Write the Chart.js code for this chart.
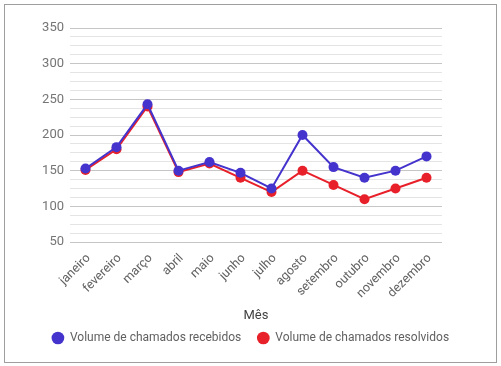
<!DOCTYPE html>
<html>
<head>
<meta charset="utf-8">
<script src="https://cdn.jsdelivr.net/npm/chart.js@4/dist/chart.umd.min.js"></script>
<style>
  html, body { margin: 0; padding: 0; background: #fff; }
  #wrap { position: relative; width: 501px; height: 366px; }
  #frame { position: absolute; left: 4px; top: 4px; width: 491px; height: 357px; border: 1px solid #9e9e9e; pointer-events: none; }
</style>
</head>
<body>
<div id="wrap">
  <canvas id="chart" width="501" height="366"></canvas>
  <div id="frame"></div>
</div>
<script>
// --- Data ---
const months = ['janeiro', 'fevereiro', 'março', 'abril', 'maio', 'junho', 'julho', 'agosto', 'setembro', 'outubro', 'novembro', 'dezembro'];
const received = [153, 183, 243, 150, 162, 147, 125, 200, 155, 140, 150, 170];
const resolved = [151, 180, 240, 148, 160, 140, 120, 150, 130, 110, 125, 140];
const yMin = 50;
const yMax = 350;
const yStep = 12.5;

const ctx = document.getElementById('chart').getContext('2d');

new Chart(ctx, {
    type: 'line',
    data: {
        labels: months,
        datasets: [
            {
                label: 'Volume de chamados recebidos',
                data: received,
                borderColor: '#4433cc',
                backgroundColor: '#4433cc',
                borderWidth: 2,
                pointRadius: 5,
                pointBorderWidth: 0,
                tension: 0
            },
            {
                label: 'Volume de chamados resolvidos',
                data: resolved,
                borderColor: '#e8202a',
                backgroundColor: '#e8202a',
                borderWidth: 2,
                pointRadius: 5,
                pointBorderWidth: 0,
                tension: 0
            }
        ]
    },
    options: {
        responsive: false,
        animation: false,
        layout: { padding: { top: 28, right: 10, left: 10, bottom: 12 } },
        plugins: {
            legend: {
                position: 'bottom',
                labels: {
                    usePointStyle: true,
                    pointStyle: 'circle',
                    boxWidth: 12,
                    boxHeight: 9,
                    padding: 16,
                    color: '#616161',
                    font: { family: 'Roboto', size: 12 }
                }
            },
            tooltip: { enabled: false }
        },
        scales: {
            x: {
                offset: true,
                afterFit: (scale) => { scale.height = 74; },
                grid: { display: false },
                border: { display: false },
                ticks: {
                    color: '#616161',
                    font: { family: 'Roboto', size: 12.5 },
                    minRotation: 45,
                    maxRotation: 45,
                    autoSkip: false,
                    labelOffset: 3,
                    padding: 1
                },
                title: {
                    display: true,
                    text: 'Mês',
                    color: '#424242',
                    font: { family: 'Roboto', size: 13 },
                    padding: { top: 4, bottom: -8 }
                }
            },
            y: {
                min: yMin,
                max: yMax,
                afterFit: (scale) => { scale.width = 60; },
                border: { display: false },
                grid: {
                    drawTicks: false,
                    color: (c) => (c.tick && c.tick.value % 50 === 0) ? '#c6c6c6' : '#e4e4e4'
                },
                ticks: {
                    stepSize: yStep,
                    autoSkip: false,
                    padding: 6,
                    color: '#757575',
                    font: { family: 'Roboto', size: 13 },
                    callback: (v) => (v % 50 === 0 ? v : '')
                }
            },
            // empty right-hand axis, only reserves the blank space right of the plot
            yRight: {
                position: 'right',
                display: true,
                afterFit: (scale) => { scale.width = 49; },
                grid: { display: false },
                border: { display: false },
                ticks: { display: false }
            }
        }
    }
});
</script>
</body>
</html>
